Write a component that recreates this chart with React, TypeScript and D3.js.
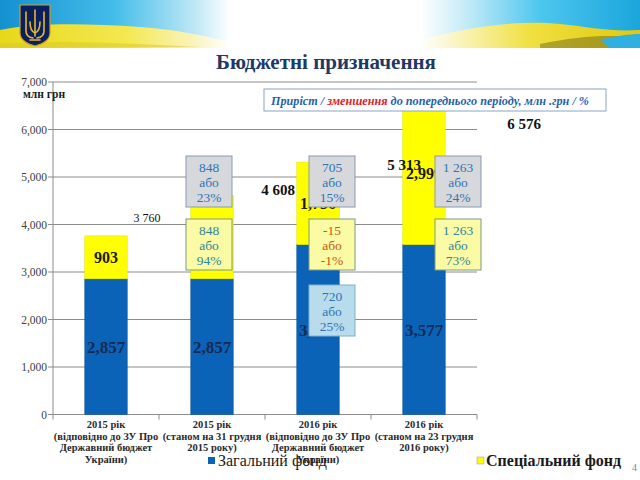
import React from "react";
import * as d3 from "d3";

const categories = ["c1", "c2", "c3", "c4"];
const categoryLabels = [
  ["2015 рік", "(відповідно до ЗУ Про", "Державний бюджет", "України)"],
  ["2015 рік", "(станом на 31 грудня", "2015 року)"],
  ["2016 рік", "(відповідно до ЗУ Про", "Державний бюджет", "України)"],
  ["2016 рік", "(станом на 23 грудня", "2016 року)"],
];
const generalFund = [2857, 2857, 3577, 3577];
const specialFund = [903, 1751, 1736, 2999];
const totalLabels = ["3 760", "4 608", "5 313", "6 576"];
const yTicks = [0, 1000, 2000, 3000, 4000, 5000, 6000, 7000];

const boxCategory = [1, 1, 2, 2, 2, 3, 3];
const boxLines = [
  ["848", "або", "23%"],
  ["848", "або", "94%"],
  ["705", "або", "15%"],
  ["-15", "або", "-1%"],
  ["720", "або", "25%"],
  ["1 263", "або", "24%"],
  ["1 263", "або", "73%"],
];
const boxKind = ["grey", "yellow", "grey", "neg", "blue", "grey", "yellow"];

// layout (annotation placement)
const boxDx = [-3, -3, 14, 14, 14, 34, 34];
const boxTop = [156, 219, 156, 219, 285, 156, 219];
const totalPos = [
  { dx: 41, y: 222, size: 12, bold: false },
  { dx: 66, y: 195, size: 15, bold: true },
  { dx: 86, y: 170, size: 15, bold: true },
  { dx: 100, y: 129, size: 15, bold: true },
];

const boxStyles: Record<string, { fill: string; stroke: string; text: string }> = {
  grey: { fill: "#d6d8dc", stroke: "#8a9ab0", text: "#2e74b5" },
  yellow: { fill: "#fbfba6", stroke: "#7d9a86", text: "#31849b" },
  neg: { fill: "#fbfba6", stroke: "#7d9a86", text: "#c55a11" },
  blue: { fill: "#b8dcec", stroke: "#7fb0cc", text: "#2e74b5" },
};

const FONT = "Liberation Serif, DejaVu Serif, Times New Roman, serif";

export default function App() {
  const left = 53, right = 477, top = 82, bottom = 414.5;
  const x = d3.scaleBand<string>().domain(categories).range([left, right]).paddingInner(0.6).paddingOuter(0.3);
  const y = d3.scaleLinear().domain([0, 7000]).range([bottom, top]);
  const step = x.step();
  const bw = x.bandwidth();
  const fmt = d3.format(",");
  const stackData = categories.map((c, i) => ({ c, g: generalFund[i], s: specialFund[i] }));
  const stack = d3.stack<any>().keys(["g", "s"])(stackData);
  const T = (props: any) => <text {...props} style={{ fontFamily: FONT }} />;

  return (
    <svg width={640} height={480} style={{ position: "absolute", left: 0, top: 0, background: "#fff", fontFamily: FONT }}>
      <defs>
        <linearGradient id="lb" x1="0" x2="1" y1="0" y2="0">
          <stop offset="0" stopColor="#1590d0" />
          <stop offset="0.5" stopColor="#45bdea" />
          <stop offset="0.85" stopColor="#bfe8f6" />
          <stop offset="1" stopColor="#ffffff" />
        </linearGradient>
        <linearGradient id="ly" x1="0" x2="1" y1="0" y2="0">
          <stop offset="0" stopColor="#e8d81a" />
          <stop offset="0.55" stopColor="#f4e850" />
          <stop offset="0.85" stopColor="#faf4c0" />
          <stop offset="1" stopColor="#ffffff" />
        </linearGradient>
        <linearGradient id="rb" x1="1" x2="0" y1="0" y2="0">
          <stop offset="0" stopColor="#1aa6dc" />
          <stop offset="0.45" stopColor="#4cc6ee" />
          <stop offset="0.8" stopColor="#c8ecf8" />
          <stop offset="1" stopColor="#ffffff" />
        </linearGradient>
        <linearGradient id="ry" x1="1" x2="0" y1="0" y2="0">
          <stop offset="0" stopColor="#e0c810" />
          <stop offset="0.5" stopColor="#f0e040" />
          <stop offset="0.85" stopColor="#faf6c8" />
          <stop offset="1" stopColor="#ffffff" />
        </linearGradient>
      </defs>

      {/* header banner */}
      <rect x={0} y={0} width={230} height={48} fill="url(#lb)" />
      <path d="M0,30 C40,22 90,24 140,27 C180,30 205,36 230,42 L230,48 L0,48 Z" fill="url(#ly)" />
      <path d="M0,44 C50,40 120,43 200,47 L0,48 Z" fill="#d8c820" opacity={0.5} />
      <rect x={420} y={0} width={220} height={48} fill="url(#rb)" />
      <path d="M420,40 C470,26 520,20 560,24 C590,27 610,32 640,30 L640,48 L420,48 Z" fill="url(#ry)" />
      <path d="M540,44 C580,36 610,34 640,38 L640,48 L540,48 Z" fill="#3a3a10" opacity={0.35} />
      <path d="M600,40 C615,36 630,34 640,34 L640,48 L610,48 Z" fill="#30b0e0" />
      {/* emblem */}
      <path d="M20,5 H50 V33 Q50,42 35,46 Q20,42 20,33 Z" fill="#0c1e5c" stroke="#c9a227" strokeWidth={1.2} />
      <g fill="none" stroke="#e2b92a" strokeWidth={1.6} strokeLinecap="round">
        <line x1={35} y1={10} x2={35} y2={36} />
        <path d="M26,12 L26,31 Q26,37 33,38" />
        <path d="M44,12 L44,31 Q44,37 37,38" />
        <path d="M30,22 Q30,31 35,33 Q40,31 40,22" />
        <line x1={30} y1={40} x2={40} y2={40} />
      </g>

      {/* title */}
      <T x={326} y={69} textAnchor="middle" fontSize={21} fontWeight="bold" fill="#1f3864">Бюджетні призначення</T>

      {/* grid */}
      {yTicks.map((t) => (
        <g key={t}>
          <line x1={left} x2={right} y1={y(t)} y2={y(t)} stroke="#8c8c8c" strokeWidth={1} />
          <line x1={left - 5} x2={left} y1={y(t)} y2={y(t)} stroke="#8c8c8c" />
          <T x={left - 6} y={y(t) + 4} textAnchor="end" fontSize={11.5} fill="#404040">{fmt(t)}</T>
        </g>
      ))}
      <line x1={left} x2={left} y1={top} y2={bottom} stroke="#8c8c8c" />
      {[0, 1, 2, 3, 4].map((i) => (
        <line key={i} x1={left + i * step} x2={left + i * step} y1={bottom} y2={bottom + 5} stroke="#8c8c8c" />
      ))}
      <T x={23} y={98} fontSize={11.5} fontWeight="bold" fill="#1a1a1a">млн грн</T>

      {/* bars */}
      {stack.map((layer, li) => (
        <g key={li}>
          {layer.map((d, i) => (
            <rect key={i} x={x(categories[i])} width={bw} y={y(d[1])} height={y(d[0]) - y(d[1])}
              fill={li === 0 ? "#0a63b6" : "#ffff00"} stroke={li === 0 ? "#0a55a0" : "#e6e600"} strokeWidth={0.6} />
          ))}
        </g>
      ))}
      {/* segment labels */}
      {stack.map((layer, li) => (
        <g key={"l" + li}>
          {layer.map((d, i) => (
            <T key={i} x={(x(categories[i]) as number) + bw / 2} y={(y(d[0]) + y(d[1])) / 2 + 6}
              textAnchor="middle" fontSize={li === 0 ? 17 : 16} fontWeight="bold" fill={li === 0 ? "#142a55" : "#1a1a00"}>
              {fmt(d[1] - d[0])}
            </T>
          ))}
        </g>
      ))}
      {/* totals */}
      {totalLabels.map((t, i) => (
        <T key={i} x={(x(categories[i]) as number) + bw / 2 + totalPos[i].dx} y={totalPos[i].y} textAnchor="middle"
          fontSize={totalPos[i].size} fontWeight={totalPos[i].bold ? "bold" : "normal"} fill="#111">{t}</T>
      ))}

      {/* change boxes */}
      {boxLines.map((lines, i) => {
        const st = boxStyles[boxKind[i]];
        const cx = (x(categories[boxCategory[i]]) as number) + bw / 2 + boxDx[i];
        const y0 = boxTop[i];
        return (
          <g key={i}>
            <rect x={cx - 23} y={y0} width={46} height={51} fill={st.fill} stroke={st.stroke} strokeWidth={1} />
            {lines.map((l, j) => (
              <T key={j} x={cx} y={y0 + 16 + j * 15} textAnchor="middle" fontSize={13.5} fill={st.text}>{l}</T>
            ))}
          </g>
        );
      })}

      {/* legend box */}
      <rect x={264} y={89} width={342} height={22} fill="#fff" stroke="#8aa4c8" strokeWidth={1} />
      <T x={271} y={105} fontSize={12.2} fontStyle="italic" fontWeight="bold" fill="#1f5fae">
        Приріст / <tspan fill="#e0202a">зменшення</tspan> до попереднього періоду, млн .грн / %
      </T>

      {/* category labels */}
      {categoryLabels.map((lines, i) => (
        <g key={i}>
          {lines.map((l, j) => (
            <T key={j} x={(x(categories[i]) as number) + bw / 2} y={428 + j * 11.5} textAnchor="middle" fontSize={10.5} fontWeight="bold" fill="#2a2a2a">{l}</T>
          ))}
        </g>
      ))}

      {/* legend */}
      <rect x={208} y={457} width={7} height={7} fill="#0a63b6" />
      <T x={218} y={466} fontSize={16} fill="#1a1a1a">Загальний фонд</T>
      <rect x={477} y={457} width={7} height={7} fill="#ffff00" stroke="#999" strokeWidth={0.5} />
      <T x={486} y={466} fontSize={16} fontWeight="bold" fill="#1a1a1a">Спеціальний фонд</T>

      <T x={632} y={471} fontSize={10} fill="#888">4</T>
    </svg>
  );
}
